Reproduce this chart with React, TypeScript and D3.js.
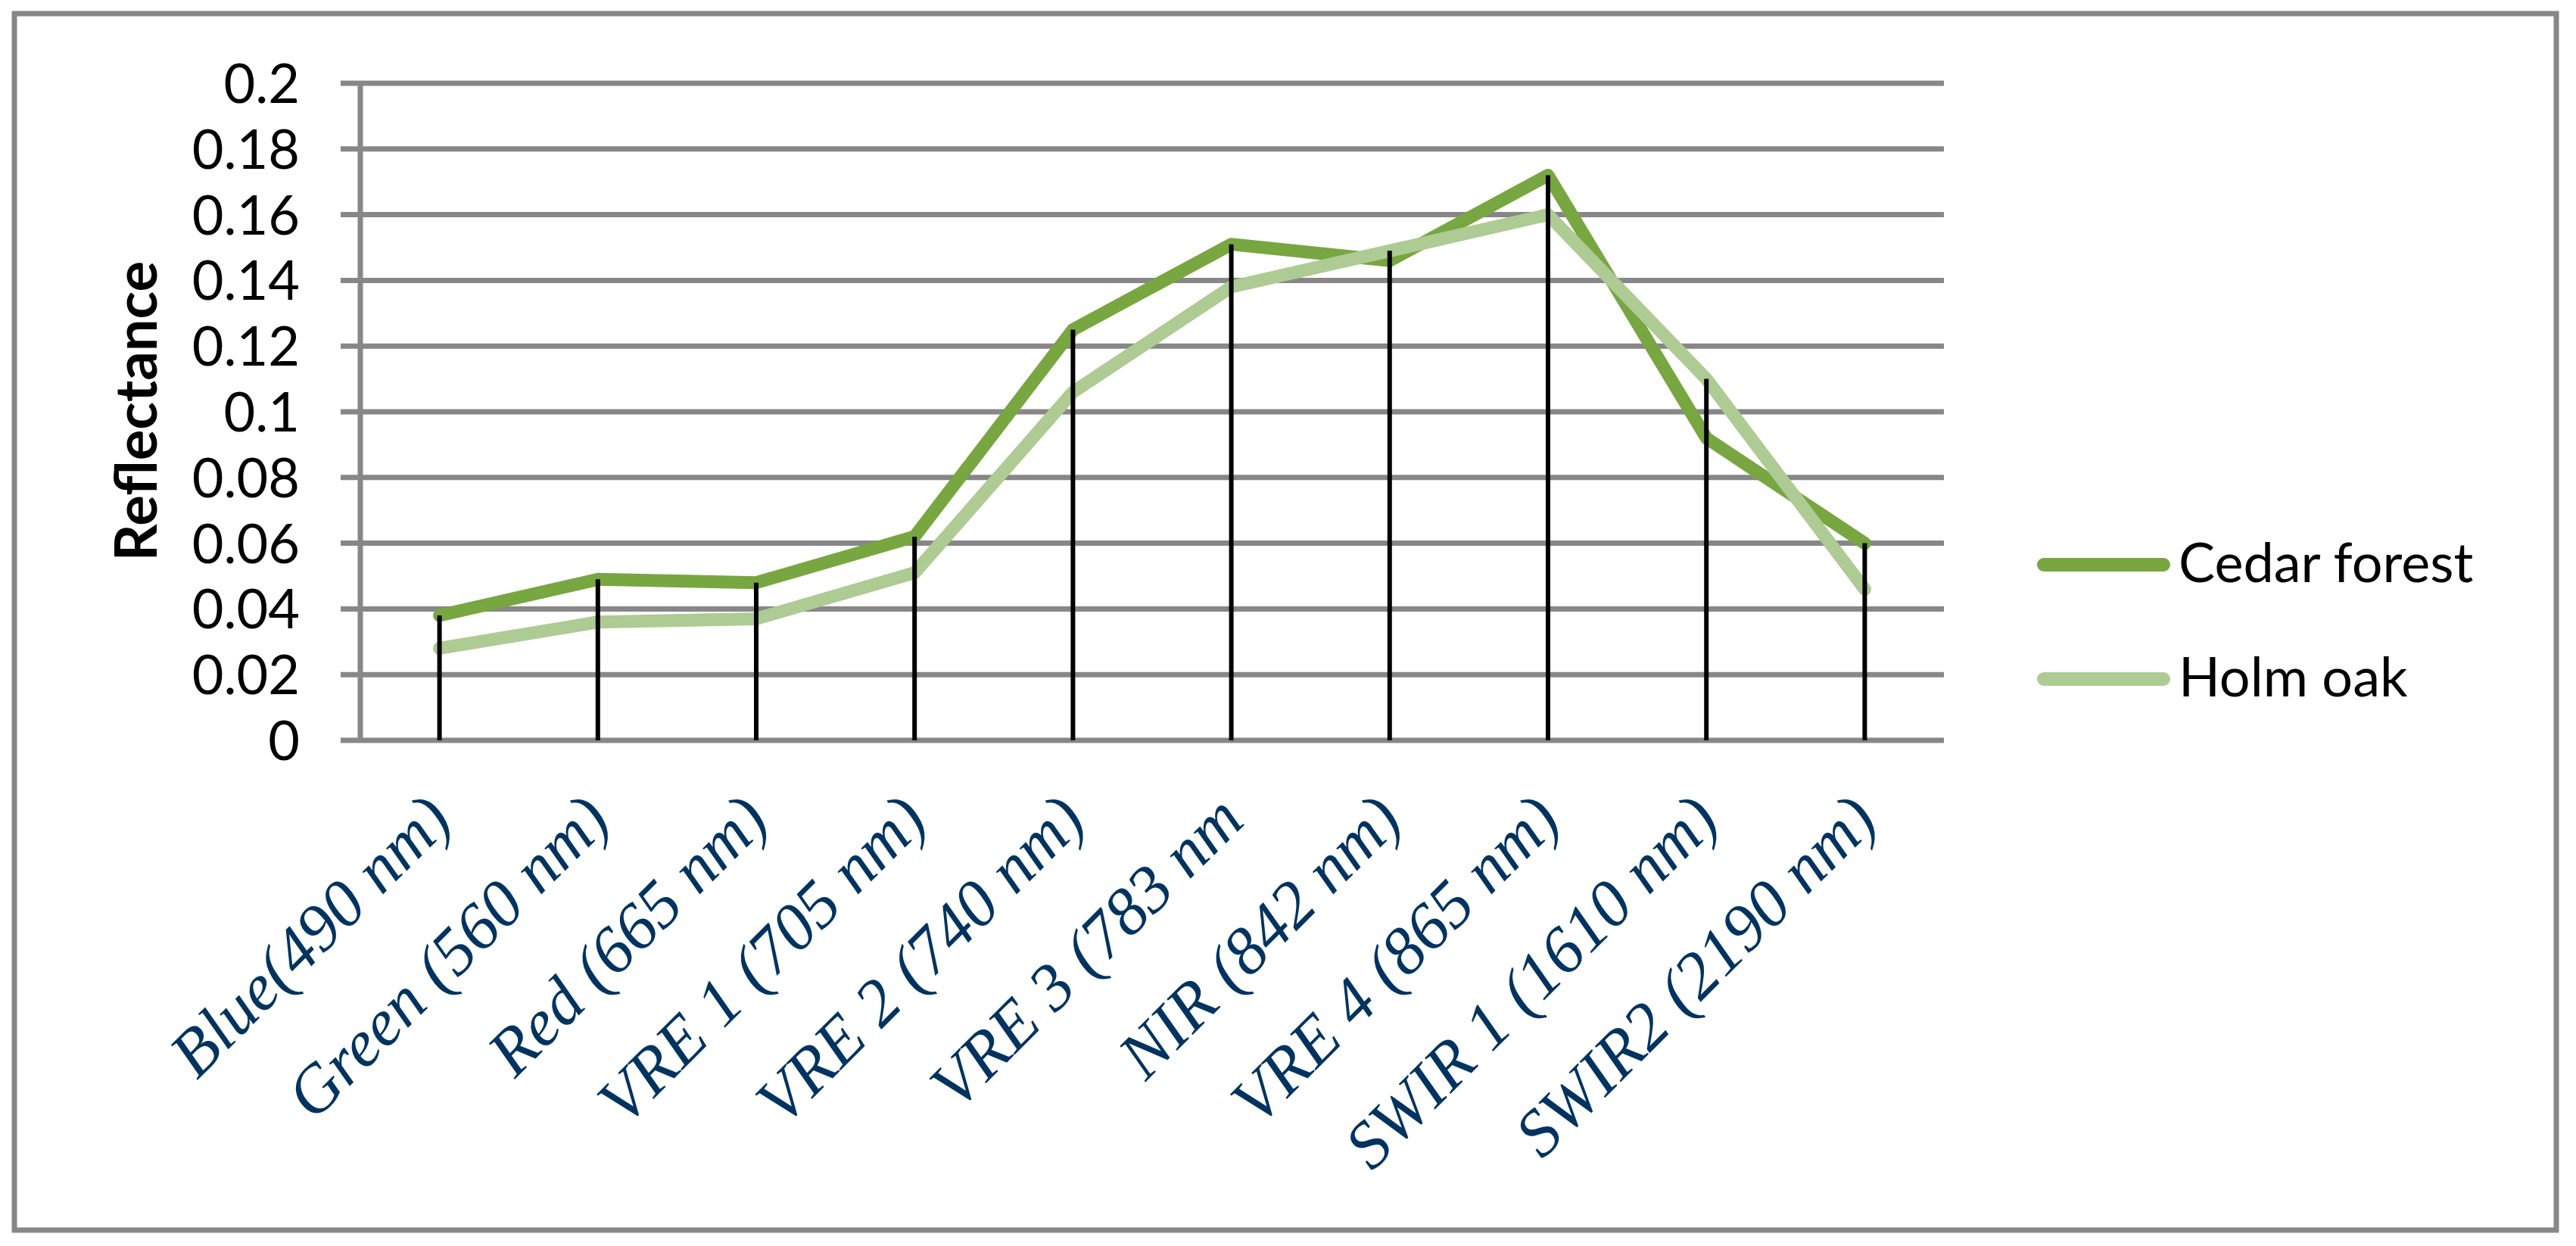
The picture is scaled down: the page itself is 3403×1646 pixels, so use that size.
import React from "react";
import * as d3 from "d3";

const categories = [
  "Blue(490 nm)",
  "Green (560 nm)",
  "Red (665 nm)",
  "VRE 1 (705 nm)",
  "VRE 2 (740 nm)",
  "VRE 3 (783 nm",
  "NIR (842 nm)",
  "VRE 4 (865 nm)",
  "SWIR 1 (1610 nm)",
  "SWIR2 (2190 nm)",
];
const cedarForest = [0.038, 0.049, 0.048, 0.062, 0.125, 0.151, 0.146, 0.172, 0.092, 0.060];
const holmOak = [0.028, 0.036, 0.037, 0.051, 0.106, 0.138, 0.149, 0.160, 0.110, 0.046];
const yTicks = [0, 0.02, 0.04, 0.06, 0.08, 0.1, 0.12, 0.14, 0.16, 0.18, 0.2];
const seriesNames = ["Cedar forest", "Holm oak"];
const seriesColors = ["#78A640", "#ADCB93"];

const W = 3403;
const H = 1646;
const PLOT_L = 476;
const PLOT_R = 2568;
const PLOT_T = 110;
const PLOT_B = 978;
const GRID = "#878787";
const SANS = "Lato, 'Open Sans', sans-serif";

export default function App() {
  const x = d3.scaleBand<string>().domain(categories).range([PLOT_L, PLOT_R]).padding(0);
  const cx = (c: string) => (x(c) as number) + x.bandwidth() / 2;
  const y = d3.scaleLinear().domain([0, 0.2]).range([PLOT_B, PLOT_T]);

  const seriesData = [cedarForest, holmOak];
  const line = d3
    .line<number>()
    .x((_, i) => cx(categories[i]))
    .y((d) => y(d));

  return (
    <svg
      width={W}
      height={H}
      style={{ position: "absolute", left: 0, top: 0, background: "#fff" }}
      xmlns="http://www.w3.org/2000/svg"
    >
      <rect x={0} y={0} width={W} height={H} fill="#fff" />
      <rect x={19} y={18} width={3358} height={1607} fill="none" stroke={GRID} strokeWidth={7} />

      {/* gridlines */}
      {yTicks.map((t) => (
        <line key={"g" + t} x1={450} x2={PLOT_R} y1={y(t)} y2={y(t)} stroke={GRID} strokeWidth={7} />
      ))}
      {/* y axis */}
      <line x1={PLOT_L} x2={PLOT_L} y1={PLOT_T} y2={PLOT_B} stroke={GRID} strokeWidth={7} />

      {/* tick labels */}
      {yTicks.map((t) => (
        <text
          key={"t" + t}
          x={396}
          y={y(t) + 26}
          textAnchor="end"
          fontFamily={SANS}
          fontSize={72}
          fill="#000"
        >
          {String(+t.toFixed(2))}
        </text>
      ))}

      {/* axis title */}
      <text
        transform={`translate(207,543) rotate(-90)`}
        textAnchor="middle"
        fontFamily={SANS}
        fontWeight="bold"
        fontSize={76}
        fill="#000"
      >
        Reflectance
      </text>

      {/* series */}
      {seriesData.map((s, k) => (
        <path
          key={"s" + k}
          d={line(s) || ""}
          fill="none"
          stroke={seriesColors[k]}
          strokeWidth={17}
          strokeLinejoin="round"
          strokeLinecap="round"
        />
      ))}

      {/* drop lines */}
      {categories.map((c, i) => (
        <line
          key={"d" + i}
          x1={cx(c)}
          x2={cx(c)}
          y1={y(Math.max(cedarForest[i], holmOak[i]))}
          y2={PLOT_B}
          stroke="#000"
          strokeWidth={6}
        />
      ))}

      {/* x labels */}
      {categories.map((c) => (
        <text
          key={"x" + c}
          transform={`translate(${cx(c) + 20},${1087}) rotate(-45)`}
          textAnchor="end"
          fontFamily="'Liberation Serif', 'Times New Roman', serif"
          fontStyle="italic"
          fontSize={88}
          fill="#00335F"
        >
          {c}
        </text>
      ))}

      {/* legend */}
      {seriesNames.map((n, k) => {
        const ly = k === 0 ? 746 : 897;
        return (
          <g key={"l" + k}>
            <line x1={2700} x2={2858} y1={ly} y2={ly} stroke={seriesColors[k]} strokeWidth={18} strokeLinecap="round" />
            <text x={2878} y={ly + 23} fontFamily={SANS} fontSize={72} fill="#000">
              {n}
            </text>
          </g>
        );
      })}
    </svg>
  );
}
